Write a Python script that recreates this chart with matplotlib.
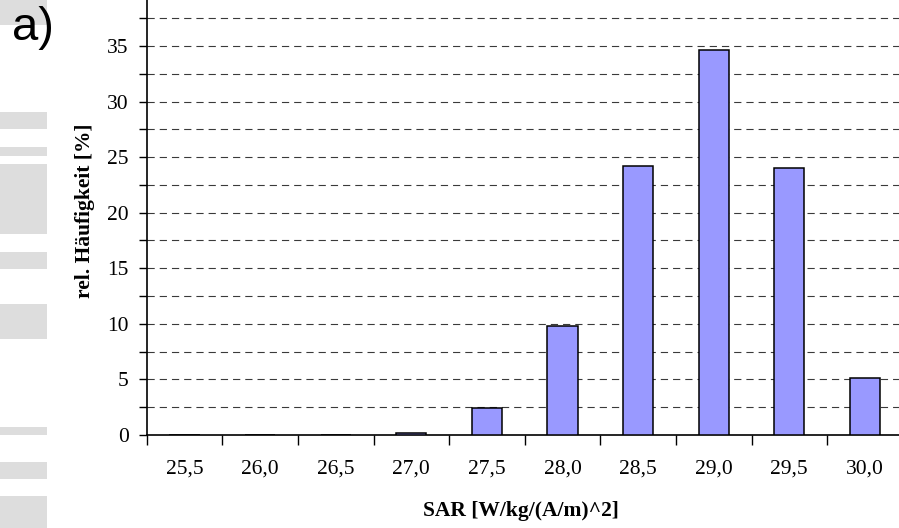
import matplotlib
matplotlib.use("Agg")
import matplotlib.pyplot as plt
from matplotlib.patches import Rectangle
from matplotlib.ticker import MultipleLocator, FixedLocator, NullFormatter, FixedFormatter
import numpy as np

# ---- data ----
categories = ['25,5', '26,0', '26,5', '27,0', '27,5', '28,0', '28,5', '29,0', '29,5', '30,0']
values = [0.0, 0.0, 0.0, 0.15, 2.45, 9.8, 24.2, 34.65, 24.0, 5.1]
y_ticks = [0, 5, 10, 15, 20, 25, 30, 35]
x_label = 'SAR [W/kg/(A/m)^2]'
y_label = 'rel. Häufigkeit [%]'
panel_label = 'a)'

W, H = 899, 528
plt.rcParams['lines.scale_dashes'] = False
fig = plt.figure(figsize=(W / 100, H / 100), dpi=100)

# decorative grey bands on the left edge (pixel y ranges)
bands = [(0, 25), (112, 129), (147, 156), (164, 234), (252, 269), (304, 339),
         (427, 435), (462, 479), (496, 528)]
for y0, y1 in bands:
    fig.patches.append(Rectangle((0, 1 - y1 / H), 47 / W, (y1 - y0) / H,
                                 transform=fig.transFigure, facecolor='#DDDDDD',
                                 edgecolor='none', zorder=0))

fig.text(12 / W, 1 - 40 / H, panel_label, family='Liberation Sans', fontsize=34,
         ha='left', va='baseline', color='black', zorder=5)

left = 146.7 / W
axw = 756 / W
bottom = (H - 435) / H
axh = 444.6 / H
ax = fig.add_axes([left, bottom, axw, axh])

x = np.arange(len(categories))
ax.bar(x, values, width=0.4, color='#9999FF', edgecolor='black', linewidth=1.1, zorder=3)

ax.set_xlim(-0.5, len(categories) - 0.5)
ax.set_ylim(0, 40)

# grid lines every 2.5
for g in np.arange(2.5, 40, 2.5):
    ax.axhline(g, color='#3a3a3a', linewidth=0.8, linestyle=(0, (5.2, 3.6)), zorder=1)

for s in ['top', 'right']:
    ax.spines[s].set_visible(False)
ax.spines['left'].set_linewidth(1.2)
ax.spines['bottom'].set_linewidth(1.2)

ax.yaxis.set_major_locator(FixedLocator(y_ticks))
ax.yaxis.set_minor_locator(MultipleLocator(2.5))
ax.set_yticklabels([str(t) for t in y_ticks], family='Liberation Serif', fontsize=15.5)
ax.tick_params(axis='y', which='both', direction='out', length=6, width=1, pad=7)

# x: tick marks at category boundaries, labels at centers
ax.xaxis.set_major_locator(FixedLocator(np.arange(-0.5, len(categories) + 0.5, 1.0)))
ax.xaxis.set_major_formatter(NullFormatter())
ax.xaxis.set_minor_locator(FixedLocator(x))
ax.xaxis.set_minor_formatter(FixedFormatter(categories))
ax.tick_params(axis='x', which='major', direction='out', length=7, width=1)
ax.tick_params(axis='x', which='minor', length=0, pad=18, labelsize=15.5)
for lbl in ax.get_xticklabels(minor=True):
    lbl.set_family('Liberation Serif')

fig.text(521 / W, 1 - 511 / H, x_label, family='Liberation Serif', fontweight='bold',
         fontsize=15.5, ha='center', va='center')
fig.text(85 / W, 1 - 211 / H, y_label, family='Liberation Serif', fontweight='bold',
         fontsize=15.5, ha='center', va='center', rotation=90)

fig.savefig('out.png', dpi=100)
